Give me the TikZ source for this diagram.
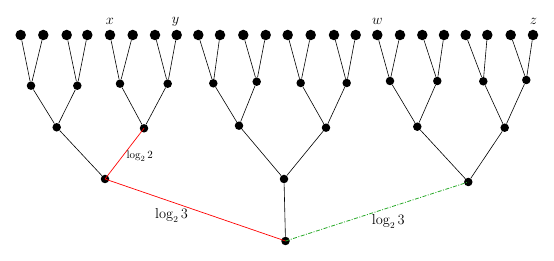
\documentclass[tikz,border=0pt]{standalone}
\begin{document}
\begin{tikzpicture}[x=1pt,y=-1pt,
  leafnode/.style={circle,fill=black,inner sep=0pt,minimum size=10.5pt},
  innode/.style={circle,fill=black,inner sep=0pt,minimum size=8.5pt},
  treeline/.style={line width=0.6pt,black},
  redline/.style={line width=0.7pt,red},
  greenline/.style={line width=0.8pt,color={rgb,255:red,40;green,170;blue,40},dash pattern=on 4pt off 1.5pt on 1pt off 1.5pt},
  biglbl/.style={font=\fontsize{13.5}{16}\selectfont,inner sep=0pt},
  smalllbl/.style={font=\fontsize{11}{13}\selectfont,inner sep=0pt}]
\useasboundingbox (0,0) rectangle (554,261);
% leaves
\foreach \x [count=\i] in {20.7,43.3,66.7,87.3,110,132.7,155,176.7,198.3,220,243.3,265.7,287.7,310.7,334,355.7,377.3,400,422.3,444,465.7,487.3,510.7,533}
  \node[leafnode] (l\i) at (\x,35) {};
% level 1
\foreach \x/\y [count=\i] in {31/85.7,77.3/85.7,120/83.7,167.7/83.7,213.3/83.3,256.7/81.7,300.7/83,346.7/83,390/81,437.3/81,483.3/81.3,526.3/80}
  \node[innode] (a\i) at (\x,\y) {};
% level 2
\foreach \x/\y [count=\i] in {56.7/127.3,144/128.3,239/125.7,326/127.7,417.3/126.7,504.7/127.7}
  \node[innode] (b\i) at (\x,\y) {};
% level 3
\node[innode] (c1) at (105,179) {};
\node[innode] (c2) at (284,179) {};
\node[innode] (c3) at (468.3,182) {};
% root
\node[innode] (r) at (285.5,241) {};
% edges leaves -> level 1
\foreach \i in {1,...,12} {
  \pgfmathtruncatemacro\j{2*\i-1}
  \pgfmathtruncatemacro\k{2*\i}
  \draw[treeline] (a\i) -- (l\j);
  \draw[treeline] (a\i) -- (l\k);
}
% level 1 -> level 2
\foreach \i in {1,...,6} {
  \pgfmathtruncatemacro\j{2*\i-1}
  \pgfmathtruncatemacro\k{2*\i}
  \draw[treeline] (b\i) -- (a\j);
  \draw[treeline] (b\i) -- (a\k);
}
% level 2 -> level 3
\draw[treeline] (c1) -- (b1);
\draw[treeline] (c2) -- (b3);
\draw[treeline] (c2) -- (b4);
\draw[treeline] (c3) -- (b5);
\draw[treeline] (c3) -- (b6);
\draw[treeline] (r) -- (c2);
% coloured paths
\draw[redline] (c1.center) -- (b2.center);
\draw[redline] (c1.center) -- (r.center);
\draw[greenline] (r.center) -- (c3.center);
% labels
\node[biglbl] (lx) at (110,21.5) {$x$};
\node[biglbl] (ly) at (175.5,21.5) {$y$};
\node[biglbl] (lw) at (377.3,21.5) {$w$};
\node[biglbl] (lz) at (533.5,21.5) {$z$};
\node[smalllbl] (t1) at (139.7,156) {$\log_2 2$};
\node[biglbl] (t2) at (171.5,215.5) {$\log_2 3$};
\node[biglbl] (t3) at (388.3,221.5) {$\log_2 3$};
\end{tikzpicture}
\end{document}
